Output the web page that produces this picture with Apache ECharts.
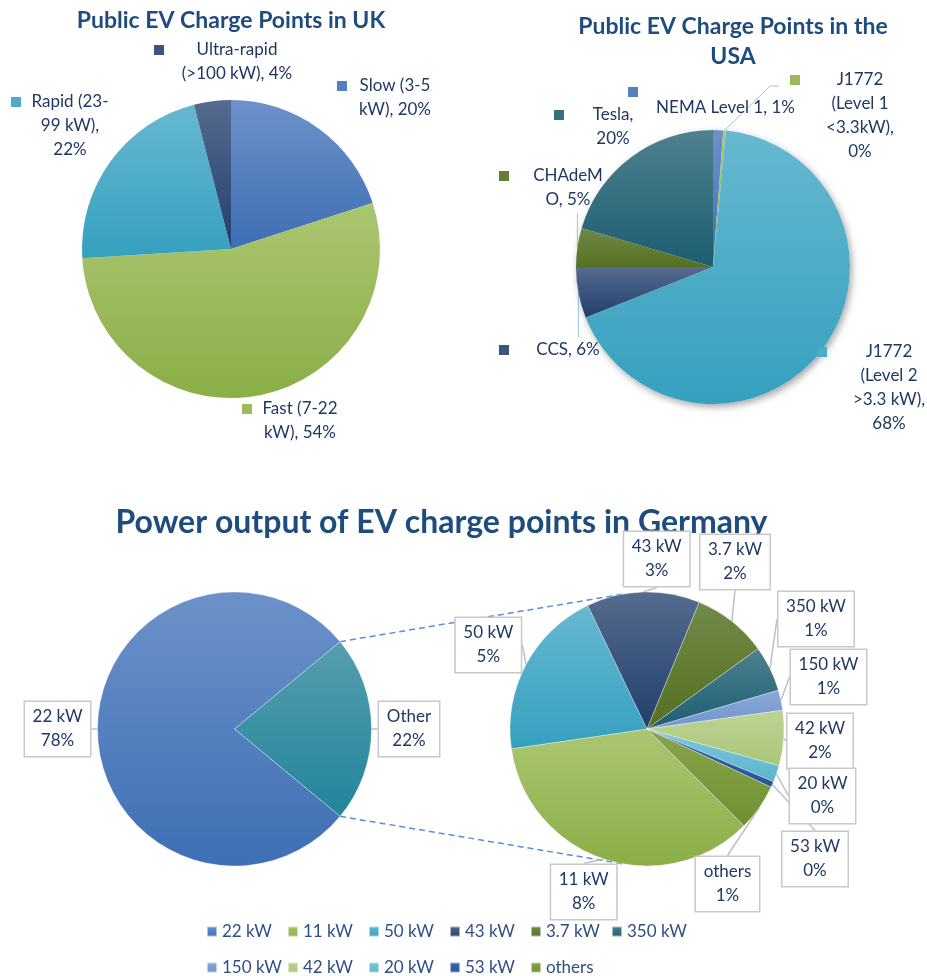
<!DOCTYPE html>
<html>
<head>
<meta charset="utf-8">
<title>Public EV charge points</title>
<script src="https://cdn.jsdelivr.net/npm/echarts@6/dist/echarts.min.js"></script>
<style>
  html, body { margin: 0; padding: 0; background: #ffffff; }
  #chart { width: 927px; height: 976px; }
</style>
</head>
<body>
<div id="chart"></div>
<script>
// ---------- data ----------
// UK public charge points by speed class (% of points)
const ukCategories = ['Slow (3-5 kW)', 'Fast (7-22 kW)', 'Rapid (23-99 kW)', 'Ultra-rapid (>100 kW)'];
const ukValues = [20, 54, 22, 4];

// USA public charge points by connector type (% of points)
const usCategories = ['NEMA Level 1', 'J1772 (Level 1 <3.3kW)', 'J1772 (Level 2 >3.3 kW)', 'CCS', 'CHAdeMO', 'Tesla'];
const usValues = [1.2, 0.3, 67.5, 6.0, 4.6, 20.4];

// Germany: 22 kW points versus everything else (% of points)
const deMainCategories = ['Other', '22 kW'];
const deMainValues = [22, 78];

// Germany: breakdown of the remaining power classes (% of all points)
const deOtherCategories = ['11 kW', '50 kW', '43 kW', '3.7 kW', '350 kW', '150 kW', '42 kW', '20 kW', '53 kW', 'others'];
const deOtherValues = [8.1, 4.65, 3.07, 2.03, 1.24, 0.55, 1.5, 0.45, 0.16, 1.27];

// Legend rows for the German chart
const legendRow1 = ['22 kW', '11 kW', '50 kW', '43 kW', '3.7 kW', '350 kW'];
const legendRow2 = ['150 kW', '42 kW', '20 kW', '53 kW', 'others'];

// ---------- styling ----------
const FONT_FAMILY = 'Lato';
const LABEL_FONT_SIZE = 17;
const LABEL_LINE_HEIGHT = 24;
const LABEL_COLOR = '#1f3864';
const TITLE_COLOR = '#1f4c7e';
const LEGEND_COLOR = '#2d4f86';

// vertical gradient pairs [top, bottom]
const shades = {
  blue:       ['#6c91ca', '#3e6fb4'],
  green:      ['#abc671', '#8bae47'],
  cyan:       ['#67b8d0', '#34a0bf'],
  navy:       ['#566b8f', '#213f6c'],
  olive:      ['#718a4b', '#55701f'],
  teal:       ['#4f818f', '#1c5d71'],
  tealOther:  ['#569eaf', '#22849a'],
  periwinkle: ['#8aa9d8', '#6f95cd'],
  lightGreen: ['#bdd395', '#a9c677'],
  lightCyan:  ['#7ec6da', '#5cb5ce'],
  blueDark:   ['#3c68aa', '#27539a'],
  oliveGreen: ['#88a54c', '#6f912f']
};
const ukShades = ['blue', 'green', 'cyan', 'navy'];
const usShades = ['blue', 'green', 'cyan', 'navy', 'olive', 'teal'];
const deMainShades = ['tealOther', 'blue'];
const deOtherShades = ['green', 'cyan', 'navy', 'olive', 'teal', 'periwinkle', 'lightGreen', 'lightCyan', 'blueDark', 'oliveGreen'];

// pie geometry (px)
const ukPie = { center: [231, 249], radius: 149 };
const usPie = { center: [713, 267], radius: 137 };
const deMainPie = { center: [234.5, 729], radius: 137 };
const deSubPie = { center: [647, 729], radius: 137 };
const deSubStartAngle = -45;
const deConnectorAngle = 100; // where the dashed connectors meet the breakdown pie

// label placement for the key-style labels: x/y = key square left / first text line top
// guide: how the leader line reaches the label ('down' = to its bottom, 'up' = to its top, 'elbow' = to its key)
const keyedLayout = {
  'Slow (3-5 kW)':           { x: 337, y: 74,  wrap: 76,  gap: 10 },
  'Fast (7-22 kW)':          { x: 242, y: 397, wrap: 76,  gap: 10 },
  'Rapid (23-99 kW)':        { x: 11,  y: 90,  wrap: 80,  gap: 9 },
  'Ultra-rapid (>100 kW)':   { x: 154, y: 38,  wrap: 116, gap: 15 },
  'NEMA Level 1':            { x: 628, y: 88,  wrap: 145, gap: 15, keyAbove: true },
  'J1772 (Level 1 <3.3kW)':  { x: 790, y: 68,  wrap: 72,  gap: 24, guide: 'elbow' },
  'J1772 (Level 2 >3.3 kW)': { x: 817, y: 340, wrap: 76,  gap: 24 },
  'CCS':                     { x: 499, y: 338, wrap: 70,  gap: 24, guide: 'up' },
  'CHAdeMO':                 { x: 499, y: 164, wrap: 70,  gap: 24, guide: 'down' },
  'Tesla':                   { x: 554, y: 103, wrap: 50,  gap: 24 }
};

// callout box centres for the German charts
const deLabelPos = {
  '22 kW': [57.5, 729], 'Other': [409, 729],
  '43 kW': [656.7, 559], '3.7 kW': [735, 562], '350 kW': [816, 619], '150 kW': [828.5, 677],
  '42 kW': [820, 741], '20 kW': [822.5, 796], '53 kW': [815, 859], 'others': [727.5, 884],
  '11 kW': [583.7, 892], '50 kW': [488.3, 645]
};

// ---------- helpers ----------
function gradient(key) {
  const c = shades[key];
  return new echarts.graphic.LinearGradient(0, 0, 0, 1, [
    { offset: 0, color: c[0] }, { offset: 1, color: c[1] }
  ]);
}
function midColor(key) {
  const c = shades[key].map(h => [1, 3, 5].map(i => parseInt(h.substr(i, 2), 16)));
  return 'rgb(' + [0, 1, 2].map(i => Math.round((c[0][i] + c[1][i]) / 2)).join(',') + ')';
}

const measureCtx = document.createElement('canvas').getContext('2d');
function textWidth(str, size) {
  measureCtx.font = (size || LABEL_FONT_SIZE) + 'px ' + FONT_FAMILY;
  return measureCtx.measureText(str).width;
}

// greedy wrapping at spaces and hyphens; words that are too long get split
function wrapText(text, maxW) {
  const tokens = text.split(/(?<=[ -])/);
  const lines = [];
  let cur = '';
  for (const tok of tokens) {
    const trial = cur + tok;
    if (cur === '' || textWidth(trial.trimEnd()) <= maxW) {
      cur = trial;
    } else {
      lines.push(cur.trimEnd());
      cur = tok;
    }
    while (textWidth(cur.trimEnd()) > maxW && cur.trimEnd().length > 1) {
      let i = cur.length;
      while (i > 1 && textWidth(cur.slice(0, i).trimEnd()) > maxW) i--;
      lines.push(cur.slice(0, i).trimEnd());
      cur = cur.slice(i);
    }
  }
  if (cur.trim()) lines.push(cur.trimEnd());
  return lines;
}

function keyedLines(name, pct) {
  return wrapText(name + ', ' + pct + '%', keyedLayout[name].wrap);
}

function keyedText(name, pct) {
  const cfg = keyedLayout[name];
  const rows = keyedLines(name, pct).map((ln, i) =>
    (i === 0 && !cfg.keyAbove ? '{k|}' : '{s|}') + '{g|}{t|' + ln + '}');
  if (cfg.keyAbove) rows.unshift('{k|}');
  return rows.join('\n');
}

function keyedLabel(name, shadeKey) {
  const cfg = keyedLayout[name];
  return {
    width: 10 + cfg.gap + cfg.wrap,
    rich: {
      k: { width: 10, height: 10, backgroundColor: midColor(shadeKey), lineHeight: cfg.keyAbove ? 8 : LABEL_LINE_HEIGHT },
      s: { width: 10, height: 10, lineHeight: LABEL_LINE_HEIGHT },
      g: { width: cfg.gap, lineHeight: LABEL_LINE_HEIGHT },
      t: { width: cfg.wrap, align: 'center', fontFamily: FONT_FAMILY, fontSize: LABEL_FONT_SIZE,
           lineHeight: LABEL_LINE_HEIGHT, color: LABEL_COLOR }
    }
  };
}

// leader line from the slice anchor to the moved label
function keyedGuide(cfg, nLines, anchor) {
  if (!anchor || !cfg.guide) return null;
  const ax = anchor[0], ay = anchor[1];
  if (cfg.guide === 'down') return [[ax, ay], [ax, cfg.y + nLines * LABEL_LINE_HEIGHT + 1]];
  if (cfg.guide === 'up') return [[ax, ay], [ax, cfg.y - 1]];
  const ey = cfg.y + LABEL_LINE_HEIGHT / 2 + 6;
  const ex = cfg.x - 11;
  return [[ax, ay], [ex - 9, ey], [ex, ey]];
}

function keyedPie(names, values, shadeKeys, geom) {
  const total = values.reduce((a, b) => a + b, 0);
  return {
    type: 'pie',
    center: geom.center,
    radius: geom.radius,
    startAngle: 90,
    clockwise: true,
    avoidLabelOverlap: false,
    animation: false,
    emphasis: { disabled: true },
    label: {
      show: true,
      position: 'outside',
      align: 'left',
      fontFamily: FONT_FAMILY,
      fontSize: LABEL_FONT_SIZE,
      color: LABEL_COLOR,
      formatter: p => keyedText(p.name, Math.round(p.percent))
    },
    labelLine: { show: false, length: 6, length2: 0, lineStyle: { color: '#9dc3e6', width: 1 } },
    labelLayout: p => {
      const name = names[p.dataIndex];
      const cfg = keyedLayout[name];
      const out = { x: cfg.x, y: cfg.y, align: 'left', verticalAlign: 'top' };
      const nLines = keyedLines(name, Math.round(values[p.dataIndex] / total * 100)).length;
      const pts = keyedGuide(cfg, nLines, p.labelLinePoints && p.labelLinePoints[0]);
      if (pts) out.labelLinePoints = pts;
      return out;
    },
    data: names.map((n, i) => ({
      name: n,
      value: values[i],
      itemStyle: { color: gradient(shadeKeys[i]) },
      label: keyedLabel(n, shadeKeys[i]),
      labelLine: { show: !!keyedLayout[n].guide }
    }))
  };
}

function boxPie(names, values, shadeKeys, geom, startAngle, pctOf) {
  return {
    type: 'pie',
    center: geom.center,
    radius: geom.radius,
    startAngle: startAngle,
    clockwise: true,
    avoidLabelOverlap: false,
    animation: false,
    emphasis: { disabled: true },
    itemStyle: { borderColor: 'rgba(255,255,255,0.55)', borderWidth: 0.6 },
    label: {
      show: true,
      position: 'outside',
      align: 'center',
      fontFamily: FONT_FAMILY,
      fontSize: LABEL_FONT_SIZE,
      lineHeight: LABEL_LINE_HEIGHT,
      color: LABEL_COLOR,
      backgroundColor: '#ffffff',
      borderColor: '#c8c8c8',
      borderWidth: 1.5,
      padding: [3, 7],
      formatter: p => p.name + '\n' + pctOf(p) + '%'
    },
    labelLine: { show: true, length: 6, length2: 0, lineStyle: { color: '#c0c0c0', width: 1.5 } },
    labelLayout: p => {
      const pos = deLabelPos[names[p.dataIndex]];
      return { x: pos[0], y: pos[1], align: 'center', verticalAlign: 'middle' };
    },
    data: names.map((n, i) => ({
      name: n,
      value: values[i],
      itemStyle: { color: gradient(shadeKeys[i]) }
    }))
  };
}

// fix each callout's text width so the pie layout never truncates it
function withBoxWidths(series, pctOf) {
  const total = series.data.reduce((s, d) => s + d.value, 0);
  series.data.forEach(d => {
    const pct = pctOf({ value: d.value, percent: d.value / total * 100 });
    d.label = { width: Math.ceil(Math.max(textWidth(d.name), textWidth(pct + '%'))) + 1 };
  });
  return series;
}

// ---------- chart ----------
const chart = echarts.init(document.getElementById('chart'), null, { renderer: 'canvas' });

const mainPct = p => Math.round(p.percent);
const subPct = p => Math.round(p.value);

const mainShare = deMainValues[0] / deMainValues.reduce((a, b) => a + b, 0);
const mainStart = mainShare * 180;

// dashed connectors from the "Other" slice edges to the breakdown pie
const halfRad = mainShare * Math.PI;
const connRad = deConnectorAngle * Math.PI / 180;
const connectors = [1, -1].map(sgn => ({
  type: 'line',
  silent: true,
  z: 1,
  shape: {
    x1: deMainPie.center[0] + deMainPie.radius * Math.cos(halfRad),
    y1: deMainPie.center[1] - sgn * deMainPie.radius * Math.sin(halfRad),
    x2: deSubPie.center[0] + deSubPie.radius * Math.cos(connRad),
    y2: deSubPie.center[1] - sgn * deSubPie.radius * Math.sin(connRad)
  },
  style: { stroke: '#5b8ed6', lineWidth: 1.5, lineDash: [6, 4] }
}));

function titleText(x, y, text, size, lineHeight) {
  return {
    type: 'text', x: x, y: y, silent: true,
    style: {
      text: text,
      fill: TITLE_COLOR,
      font: 'bold ' + size + 'px ' + FONT_FAMILY,
      lineHeight: lineHeight || size * 1.25,
      align: 'center', verticalAlign: 'middle',
      textAlign: 'center', textVerticalAlign: 'middle'
    }
  };
}

const legendBase = {
  orient: 'horizontal',
  left: 206,
  padding: 0,
  itemWidth: 10,
  itemHeight: 10,
  itemGap: 5,
  icon: 'rect',
  selectedMode: false,
  formatter: name => '{n|' + name + '}',
  textStyle: {
    fontFamily: FONT_FAMILY,
    fontSize: LABEL_FONT_SIZE,
    color: LEGEND_COLOR,
    rich: { n: { width: 60, lineHeight: 20, fontFamily: FONT_FAMILY, fontSize: LABEL_FONT_SIZE, color: LEGEND_COLOR } }
  }
};

const usBackdrop = {
  type: 'pie',
  center: usPie.center,
  radius: usPie.radius,
  silent: true,
  animation: false,
  label: { show: false },
  labelLine: { show: false },
  itemStyle: { color: '#ffffff', shadowBlur: 7, shadowColor: 'rgba(0,0,0,0.35)', shadowOffsetX: 2, shadowOffsetY: 3 },
  data: [{ name: 'backdrop', value: 1 }]
};

const option = {
  backgroundColor: '#ffffff',
  animation: false,
  textStyle: { fontFamily: FONT_FAMILY },
  legend: [
    Object.assign({}, legendBase, { top: 923, data: legendRow1 }),
    Object.assign({}, legendBase, { top: 959, data: legendRow2 })
  ],
  graphic: [
    titleText(231, 21, 'Public EV Charge Points in UK', 23),
    titleText(733, 42, 'Public EV Charge Points in the\nUSA', 23, 30),
    titleText(441.5, 523, 'Power output of EV charge points in Germany', 32),
    ...connectors
  ],
  series: [
    keyedPie(ukCategories, ukValues, ukShades, ukPie),
    usBackdrop,
    keyedPie(usCategories, usValues, usShades, usPie),
    withBoxWidths(boxPie(deMainCategories, deMainValues, deMainShades, deMainPie, mainStart, mainPct), mainPct),
    withBoxWidths(boxPie(deOtherCategories, deOtherValues, deOtherShades, deSubPie, deSubStartAngle, subPct), subPct)
  ]
};

chart.setOption(option);
</script>
</body>
</html>
